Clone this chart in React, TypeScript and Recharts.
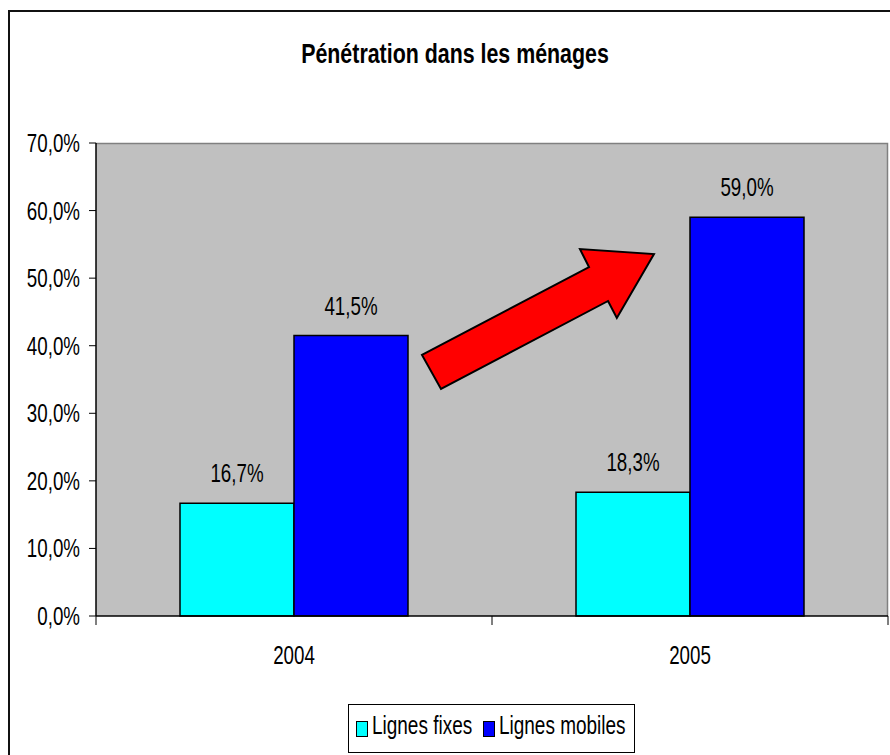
import React from 'react';
import { BarChart, Bar, XAxis, YAxis, CartesianGrid, ReferenceArea, LabelList, Legend } from 'recharts';

// values
const years = ['2004', '2005'];
const lignesFixes = [16.7, 18.3];
const lignesMobiles = [41.5, 59.0];
const yTicks = [0, 10, 20, 30, 40, 50, 60, 70];
const arrowRange = [33.6, 54.3]; // vertical extent of the red arrow, in %

const data = years.map((year, i) => ({ year, fixes: lignesFixes[i], mobiles: lignesMobiles[i] }));

const FONT = '"Liberation Sans", Arial, Helvetica, sans-serif';
const SQUEEZE = 0.75; // text in the original is narrow
const pct = (v: number) => v.toFixed(1).replace('.', ',') + '%';

const YTick = ({ x, y, payload }: any) => (
    <text
        transform={`translate(${x},${y + 9}) scale(${SQUEEZE},1)`}
        textAnchor="end"
        fontFamily={FONT}
        fontSize={25}
        fill="#000"
    >
        {pct(payload.value)}
    </text>
);

const XTick = ({ x, y, payload }: any) => (
    <text
        transform={`translate(${x},${y + 48}) scale(${SQUEEZE},1)`}
        textAnchor="middle"
        fontFamily={FONT}
        fontSize={25}
        fill="#000"
    >
        {payload.value}
    </text>
);

const BarLabel = (props: any) => {
    const vb = props.viewBox || props;
    const x = vb.x ?? props.x;
    const y = vb.y ?? props.y;
    const w = vb.width ?? props.width;
    return (
        <text
            transform={`translate(${x + w / 2},${y - 21}) scale(${SQUEEZE},1)`}
            textAnchor="middle"
            fontFamily={FONT}
            fontSize={25}
            fill="#000"
        >
            {pct(Number(props.value))}
        </text>
    );
};

// gray top/right border of the plot + excel style ticks between categories
const PlotFrame = ({ x, y, width, height }: any) => {
    const n = years.length;
    const bottom = y + height;
    const ticks = Array.from({ length: n + 1 }, (_, i) => x + (width * i) / n);
    return (
        <g>
            <path d={`M${x},${y + 0.5}H${x + width - 0.5}V${bottom}`} stroke="#808080" strokeWidth={1.5} fill="none" />
            {ticks.map((tx, i) => (
                <line key={i} x1={tx} x2={tx} y1={bottom} y2={bottom + 9} stroke="#000" strokeWidth={1} />
            ))}
        </g>
    );
};

// block arrow, outline as fractions of its box
const ARROW_PTS = [[0, 0.757], [0.72, 0.129], [0.681, 0], [1, 0.036], [0.84, 0.493], [0.802, 0.371], [0.082, 1]];
const ArrowShape = ({ x, y, width, height }: any) => {
    const x0 = x + width * 0.4116;
    const w = width * (0.7045 - 0.4116);
    const pts = ARROW_PTS.map(([px, py]) => `${x0 + px * w},${y + py * height}`).join(' ');
    return <polygon points={pts} fill="#FF0000" stroke="#000" strokeWidth={2} strokeLinejoin="miter" />;
};

const LEGEND_ITEM_X = [8, 135];
const LegendBox = ({ payload }: any) => (
    <svg width={287} height={49} style={{ display: 'block' }}>
        <rect x={0.5} y={0.5} width={286} height={48} fill="#fff" stroke="#000" />
        {(payload || []).map((item: any, i: number) => (
            <g key={item.value} transform={`translate(${LEGEND_ITEM_X[i]},0)`}>
                <rect x={0.5} y={17.5} width={11} height={15} fill={item.color} stroke="#000" />
                <text
                    transform={`translate(16,30) scale(0.73,1)`}
                    fontFamily={FONT}
                    fontSize={26}
                    fill="#000"
                >
                    {item.value}
                </text>
            </g>
        ))}
    </svg>
);

export default function App() {
    return (
        <div style={{ position: 'absolute', left: 0, top: 0, width: 890, height: 755, background: '#fff', overflow: 'hidden' }}>
            <div
                style={{
                    position: 'absolute', left: 8, top: 10, width: 900, height: 760,
                    borderLeft: '2px solid #111', borderTop: '2px solid #111',
                }}
            />
            <div style={{ position: 'absolute', left: 0, top: 0 }}>
                <BarChart
                    width={890}
                    height={755}
                    data={data}
                    margin={{ top: 143, right: 2, left: 10, bottom: 79 }}
                    barGap={0}
                >
                    <CartesianGrid horizontal={false} vertical={false} fill="#C0C0C0" fillOpacity={1} />
                    <ReferenceArea y1={0} y2={70} shape={PlotFrame} ifOverflow="visible" />
                    <XAxis
                        dataKey="year"
                        tickLine={false}
                        tickSize={0}
                        tickMargin={0}
                        height={60}
                        interval={0}
                        axisLine={{ stroke: '#000', strokeWidth: 1.5 }}
                        tick={XTick}
                    />
                    <YAxis
                        type="number"
                        domain={[0, 70]}
                        ticks={yTicks}
                        interval={0}
                        width={86}
                        tickSize={7}
                        tickMargin={9}
                        axisLine={{ stroke: '#000', strokeWidth: 1.5 }}
                        tickLine={{ stroke: '#000' }}
                        tick={YTick}
                    />
                    <Bar dataKey="fixes" name="Lignes fixes" fill="#00FFFF" stroke="#000" strokeWidth={1.5} barSize={114} isAnimationActive={false}>
                        <LabelList dataKey="fixes" content={BarLabel} />
                    </Bar>
                    <Bar dataKey="mobiles" name="Lignes mobiles" fill="#0000FF" stroke="#000" strokeWidth={1.5} barSize={114} isAnimationActive={false}>
                        <LabelList dataKey="mobiles" content={BarLabel} />
                    </Bar>
                    <ReferenceArea y1={arrowRange[0]} y2={arrowRange[1]} shape={ArrowShape} ifOverflow="visible" />
                    <Legend
                        layout="horizontal"
                        verticalAlign="middle"
                        align="center"
                        width={287}
                        height={49}
                        wrapperStyle={{ top: 704, left: 348 }}
                        content={LegendBox}
                    />
                    <text
                        transform={`translate(455,63) scale(${SQUEEZE},1)`}
                        textAnchor="middle"
                        fontFamily={FONT}
                        fontWeight="bold"
                        fontSize={28.5}
                        fill="#000"
                    >
                        Pénétration dans les ménages
                    </text>
                </BarChart>
            </div>
        </div>
    );
}
